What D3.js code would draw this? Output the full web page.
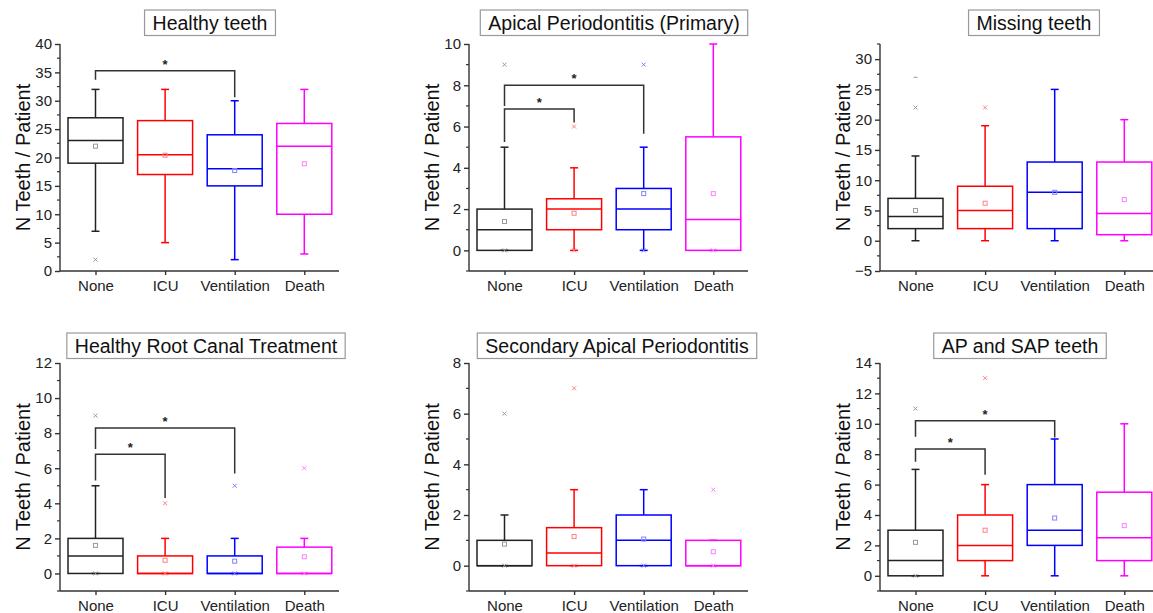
<!DOCTYPE html>
<html>
<head>
<meta charset="utf-8">
<script src="https://cdn.jsdelivr.net/npm/d3@7"></script>
<style>
  body { margin: 0; background: #fff; }
  text { font-family: "Liberation Sans", Arial, sans-serif; }
</style>
</head>
<body>
<script>
// Groups and colours
var groups = ["None", "ICU", "Ventilation", "Death"];
var colors = ["#222222", "#ff0000", "#0000ff", "#ff00ff"];
var lightColors = ["#999999", "#ff8080", "#8080ff", "#ff80ff"];

var titles = ["Healthy teeth", "Apical Periodontitis (Primary)", "Missing teeth",
  "Healthy Root Canal Treatment", "Secondary Apical Periodontitis", "AP and SAP teeth"];
var yDomains = [[0, 40], [-1, 10], [-5, 32.5], [-1, 12], [-1, 8], [-1, 14]];
var yTickSteps = [5, 2, 5, 2, 2, 2];
var yMinorSteps = [2.5, 1, 2.5, 1, 1, 1];

// box stats per group: [whisker low, q1, median, q3, whisker high, mean]
var healthyTeeth = [[7, 19, 23, 27, 32, 22], [5, 17, 20.5, 26.5, 32, 20.4], [2, 15, 18, 24, 30, 17.7], [3, 10, 22, 26, 32, 18.9]];
var apicalPrimary = [[0, 0, 1, 2, 5, 1.4], [0, 1, 2, 2.5, 4, 1.8], [0, 1, 2, 3, 5, 2.75], [0, 0, 1.5, 5.5, 10, 2.75]];
var missingTeeth = [[0, 2, 4, 7, 14, 5], [0, 2, 5, 9, 19, 6.2], [0, 2, 8, 13, 25, 8], [0, 1, 4.5, 13, 20, 6.8]];
var healthyRct = [[0, 0, 1, 2, 5, 1.6], [0, 0, 0, 1, 2, 0.75], [0, 0, 0, 1, 2, 0.7], [0, 0, 0, 1.5, 2, 0.95]];
var secondaryAp = [[0, 0, 0, 1, 2, 0.85], [0, 0, 0.5, 1.5, 3, 1.15], [0, 0, 1, 2, 3, 1.05], [0, 0, 0, 1, 1, 0.55]];
var apSapTeeth = [[0, 0, 1, 3, 7, 2.2], [0, 1, 2, 4, 6, 3], [0, 2, 3, 6, 9, 3.8], [0, 1, 2.5, 5.5, 10, 3.3]];

// outlier crosses: [group index, value]
var healthyOut = [[0, 2]];
var apicalOut = [[0, 9], [0, 0], [1, 6], [1, 0], [2, 9], [2, 0], [3, 0]];
var missingOut = [[0, 22], [1, 22]];
var rctOut = [[0, 9], [0, 0], [1, 4], [1, 0], [2, 5], [2, 0], [3, 6], [3, 0]];
var secOut = [[0, 6], [0, 0], [1, 7], [1, 0], [2, 0], [3, 3], [3, 0]];
var apSapOut = [[0, 11], [0, 0], [1, 13]];
// max dash markers
var missingMax = [[0, 27]];

// significance brackets: [from, to, bar level, left leg end, right leg end]
var healthyBrackets = [[0, 2, 35.3, 33.7, 30.6]];
var apicalBrackets = [[0, 1, 6.85, 5.25, 6.2], [0, 2, 8, 7, 5.65]];
var rctBrackets = [[0, 1, 6.8, 5.3, 4.3], [0, 2, 8.3, 7.1, 5.7]];
var apSapBrackets = [[0, 1, 8.35, 7.5, 6.65], [0, 2, 10.2, 9.15, 9.1]];

var stats = [healthyTeeth, apicalPrimary, missingTeeth, healthyRct, secondaryAp, apSapTeeth];
var outliers = [healthyOut, apicalOut, missingOut, rctOut, secOut, apSapOut];
var maxMarks = [[], [], missingMax, [], [], []];
var brackets = [healthyBrackets, apicalBrackets, [], rctBrackets, [], apSapBrackets];

// layout
var svgWidth = 1153, svgHeight = 613;
var colLeft = [60, 469, 880];
var rowTop = [44, 363];
var rowBottom = [271, 591];
var plotWidth = 279;
var titleX = [210, 614, 1034, 206, 617, 1020];
var titleY = [10, 333];
var boxWidth = 55;
var axisColor = "#333";

var svg = d3.select("body").append("svg")
  .attr("width", svgWidth)
  .attr("height", svgHeight);

stats.forEach(function(panelStats, p) {
  var col = p % 3, row = Math.floor(p / 3);
  var left = colLeft[col], top = rowTop[row], bottom = rowBottom[row];

  var x = d3.scalePoint().domain(groups).range([left + 35.5, left + 35.5 + 3 * 69.6]);
  var y = d3.scaleLinear().domain(yDomains[p]).range([bottom, top]);

  var g = svg.append("g");

  // y axis
  var d0 = yDomains[p];
  var majors = d3.range(Math.ceil(d0[0] / yTickSteps[p]) * yTickSteps[p], d0[1] + 0.001, yTickSteps[p]);
  var minors = d3.range(Math.ceil(d0[0] / yMinorSteps[p]) * yMinorSteps[p], d0[1] + 0.001, yMinorSteps[p])
    .filter(v => majors.indexOf(v) < 0);
  var yAxis = g.append("g").attr("transform", `translate(${left},0)`)
    .call(d3.axisLeft(y).tickValues(majors).tickSize(5).tickPadding(3).tickFormat(d3.format("d")));
  yAxis.select(".domain").attr("d", `M0,${bottom}V${top}`);
  yAxis.selectAll("path, line").attr("stroke", axisColor).attr("stroke-width", 1.4);
  yAxis.selectAll("text").attr("font-size", 15).attr("fill", "#222")
    .attr("font-family", "'Liberation Sans', Arial, sans-serif");
  yAxis.selectAll(".minor").data(minors).enter().append("line")
    .attr("x1", -3).attr("x2", 0)
    .attr("y1", d => y(d)).attr("y2", d => y(d))
    .attr("stroke", axisColor).attr("stroke-width", 1.2);

  // x axis
  var xAxis = g.append("g").attr("transform", `translate(0,${bottom})`)
    .call(d3.axisBottom(x).tickSize(4).tickPadding(5));
  xAxis.select(".domain").attr("d", `M${left},0H${left + plotWidth}`);
  xAxis.selectAll("path, line").attr("stroke", axisColor).attr("stroke-width", 1.4);
  xAxis.selectAll("text").attr("font-size", 15).attr("fill", "#222")
    .attr("font-family", "'Liberation Sans', Arial, sans-serif");

  // y title
  g.append("text")
    .attr("text-anchor", "middle")
    .attr("transform", `translate(${left - 30},${(top + bottom) / 2})rotate(-90)`)
    .attr("font-size", 20)
    .attr("fill", "#111")
    .text("N Teeth / Patient");

  // title box
  var titleRect = g.append("rect");
  var tt = g.append("text")
    .attr("x", titleX[p]).attr("y", titleY[row] + 19.5)
    .attr("text-anchor", "middle")
    .attr("font-size", 19.5)
    .attr("fill", "#111")
    .text(titles[p]);
  var tw = tt.node().getComputedTextLength();
  titleRect
    .attr("x", titleX[p] - tw / 2 - 8).attr("y", titleY[row])
    .attr("width", tw + 16).attr("height", 25.5)
    .attr("fill", "#fff").attr("stroke", "#999").attr("stroke-width", 1.2);

  // boxes
  var bg = g.selectAll(".box").data(panelStats).enter().append("g");
  bg.each(function(s, i) {
    var el = d3.select(this), cx = x(groups[i]), c = colors[i];
    // whiskers
    el.append("line").attr("x1", cx).attr("x2", cx).attr("y1", y(s[3])).attr("y2", y(s[4]))
      .attr("stroke", c).attr("stroke-width", 1.5);
    el.append("line").attr("x1", cx).attr("x2", cx).attr("y1", y(s[1])).attr("y2", y(s[0]))
      .attr("stroke", c).attr("stroke-width", 1.5);
    [s[0], s[4]].forEach(function(v) {
      el.append("line").attr("x1", cx - 4).attr("x2", cx + 4).attr("y1", y(v)).attr("y2", y(v))
        .attr("stroke", c).attr("stroke-width", 1.5);
    });
    el.append("rect")
      .attr("x", cx - boxWidth / 2).attr("y", y(s[3]))
      .attr("width", boxWidth).attr("height", y(s[1]) - y(s[3]))
      .attr("fill", "none").attr("stroke", c).attr("stroke-width", 1.5);
    el.append("line").attr("x1", cx - boxWidth / 2).attr("x2", cx + boxWidth / 2)
      .attr("y1", y(s[2])).attr("y2", y(s[2]))
      .attr("stroke", c).attr("stroke-width", 1.5);
    // mean square
    el.append("rect").attr("x", cx - 2).attr("y", y(s[5]) - 2).attr("width", 4).attr("height", 4)
      .attr("fill", "none").attr("stroke", lightColors[i]).attr("stroke-width", 1);
  });

  // outlier crosses
  g.selectAll(".out").data(outliers[p]).enter().append("path")
    .attr("d", function(d) {
      var cx = x(groups[d[0]]), cy = y(d[1]);
      return `M${cx - 2},${cy - 2}L${cx + 2},${cy + 2}M${cx - 2},${cy + 2}L${cx + 2},${cy - 2}`;
    })
    .attr("stroke", d => lightColors[d[0]]).attr("stroke-width", 1);

  g.selectAll(".maxmark").data(maxMarks[p]).enter().append("line")
    .attr("x1", d => x(groups[d[0]]) - 2).attr("x2", d => x(groups[d[0]]) + 2)
    .attr("y1", d => y(d[1])).attr("y2", d => y(d[1]))
    .attr("stroke", d => lightColors[d[0]]).attr("stroke-width", 1);

  // significance brackets
  brackets[p].forEach(function(b) {
    var x1 = x(groups[b[0]]), x2 = x(groups[b[1]]);
    g.append("path")
      .attr("d", `M${x1},${y(b[3])}V${y(b[2])}H${x2}V${y(b[4])}`)
      .attr("fill", "none").attr("stroke", axisColor).attr("stroke-width", 1.5);
    g.append("text")
      .attr("x", (x1 + x2) / 2).attr("y", y(b[2]) - 2)
      .attr("text-anchor", "middle")
      .attr("font-size", 13).attr("font-weight", "bold")
      .attr("fill", "#222")
      .text("*");
  });
});
</script>
</body>
</html>
